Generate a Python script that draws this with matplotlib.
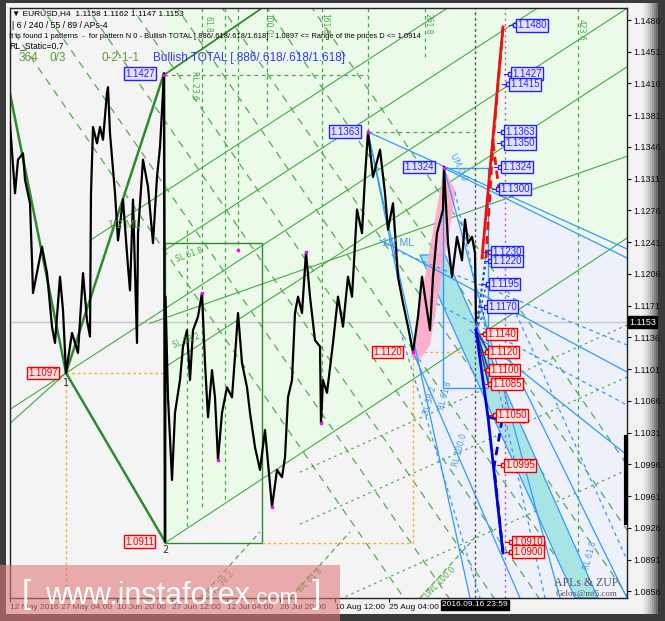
import matplotlib
matplotlib.use("Agg")
import matplotlib.pyplot as plt
from matplotlib.patches import Rectangle, Polygon

W, H = 665, 621

# ---------------- data ----------------
bar_pos = [9, 15, 18, 23, 25, 30, 32, 33, 42, 47, 52, 55, 60, 63, 66, 72, 78, 83, 87, 90,
           91, 93, 97, 100, 103, 107, 108, 110, 115, 118, 123, 128, 130, 133, 137, 138, 143,
           148, 153, 157, 160, 163, 164, 165, 165.5, 168, 172, 175, 180, 183, 187, 190, 193,
           198, 202, 205, 208, 212, 215, 218, 222, 227, 232, 235, 238, 242, 247, 250, 255,
           260, 265, 268, 272, 277, 282, 285, 288, 292, 295, 298, 302, 306, 310, 315, 320,
           321, 323, 327, 333, 338, 343, 348, 352, 357, 362, 365, 368, 373, 380, 385, 388,
           393, 398, 403, 408, 413, 418, 422, 427, 430, 433, 437, 443, 444, 448, 452, 457,
           462, 465, 468, 472, 475, 476]
close = [1.1387, 1.1295, 1.1332, 1.1339, 1.1310, 1.1284, 1.1221, 1.1185, 1.1236, 1.1207,
         1.1148, 1.1130, 1.1203, 1.1166, 1.1097, 1.1141, 1.1119, 1.1207, 1.1155, 1.1137,
         1.1295, 1.1368, 1.1350, 1.1368, 1.1354, 1.1406, 1.1412, 1.1361, 1.1295, 1.1243,
         1.1288, 1.1214, 1.1188, 1.1288, 1.1130, 1.1251, 1.1332, 1.1302, 1.1240, 1.1313,
         1.1346, 1.1406, 1.1427, 1.0911, 1.1181, 1.1070, 1.0979, 1.1053, 1.1089, 1.1126,
         1.1144, 1.1089, 1.1144, 1.1159, 1.1185, 1.1108, 1.1048, 1.1100, 1.1070, 1.1001,
         1.1053, 1.1081, 1.1070, 1.1115, 1.1163, 1.1108, 1.1081, 1.1053, 1.1015, 1.0990,
         1.1034, 1.0998, 1.0949, 1.0990, 1.0982, 1.1004, 1.1070, 1.1089, 1.1163, 1.1181,
         1.1163, 1.1230, 1.1181, 1.1133, 1.1126, 1.1042, 1.1089, 1.1075, 1.1130, 1.1181,
         1.1148, 1.1203, 1.1181, 1.1277, 1.1251, 1.1313, 1.1363, 1.1313, 1.1343, 1.1295,
         1.1255, 1.1284, 1.1203, 1.1174, 1.1148, 1.1120, 1.1159, 1.1203, 1.1166, 1.1144,
         1.1203, 1.1251, 1.1277, 1.1324, 1.1240, 1.1203, 1.1247, 1.1221, 1.1266, 1.1240,
         1.1247, 1.1229, 1.1153]

# zigzag pivots (bar, price)
zz_x = [8, 66, 164, 165]
zz_p = [1.1416, 1.1097, 1.1427, 1.0911]

# pivot labels on the chart
piv_x = [28, 125, 125, 330, 404, 373]
piv_p = [1.1097, 1.0911, 1.1427, 1.1363, 1.1324, 1.1120]
piv_kind = ["r", "r", "b", "b", "b", "r"]

# projection target levels (right side boxes)
tgt_up_p = [1.1480, 1.1427, 1.1415, 1.1363, 1.1350, 1.1324, 1.1300, 1.1230, 1.1220, 1.1195, 1.1170]
tgt_up_x = [515, 510, 508, 503, 503, 500, 498, 490, 490, 488, 486]
tgt_dn_p = [1.1140, 1.1120, 1.1100, 1.1085, 1.1050, 1.0995, 1.0910, 1.0900]
tgt_dn_x = [485, 487, 488, 490, 495, 503, 511, 511]

# axes ticks
price_ticks = [1.1486, 1.1451, 1.1416, 1.1381, 1.1346, 1.1311, 1.1276, 1.1241, 1.1206,
               1.1171, 1.1136, 1.1101, 1.1066, 1.1031, 1.0996, 1.0961, 1.0926, 1.0891, 1.0856]
time_ticks = [10, 61, 117, 172, 227, 280, 335, 389]
time_labels = ["12 May 2016", "27 May 04:00", "10 Jun 20:00", "27 Jun 12:00",
               "12 Jul 04:00", "26 Jul 20:00", "10 Aug 12:00", "25 Aug 04:00"]
last_price = 1.1153

# ---------------- helpers ----------------
PPU = 9071.0
def p(ypx):
    """pixel row -> price (for drawn analysis objects)"""
    return 1.1486 - (ypx - 20) / PPU

def seg(ax, a, b, **kw):
    ax.plot([a[0], b[0]], [p(a[1]), p(b[1])], **kw)

def ext(ax, a, slope, x0, x1, **kw):
    ax.plot([x0, x1], [p(a[1] + slope * (x0 - a[0])), p(a[1] + slope * (x1 - a[0]))], **kw)

FONT = "Liberation Sans"

fig = plt.figure(figsize=(W / 100, H / 100), dpi=100)
fig.patch.set_facecolor("#3a3a3a")

bg = fig.add_axes([0, 0, 1, 1])
bg.set_xlim(0, W); bg.set_ylim(H, 0); bg.axis("off")
bg.add_patch(Rectangle((6, 3), 650, 611, color="#f2f2f2", lw=0))
grays = ["#f4f4f4", "#eeeeee", "#e4e4e4", "#d8d8d8", "#c8c8c8", "#b4b4b4", "#9c9c9c", "#848484", "#6c6c6c"]
for i, g in enumerate(grays):
    bg.add_patch(Rectangle((640 + 2 * i, 3), 2.2, 611, color=g, lw=0))

# ---------------- main chart ----------------
ax = fig.add_axes([10 / W, (H - 598) / H, 617 / W, 590 / H])
ax.set_xlim(10, 627)
ax.set_ylim(p(598), p(8))
ax.set_facecolor("#f4f4f4")

ax.add_patch(Polygon([(165, p(543)), (627, p(543 - 0.66 * 462)), (627, p(0)), (165, p(0))],
                     closed=True, color="#ecfbe9", lw=0, zorder=0.2))
ax.add_patch(Polygon([(413, p(352)), (444, p(168)), (627, p(258)), (627, p(600)), (470, p(600))],
                     closed=True, color="#eef1fa", lw=0, zorder=0.3))

ax.axhline(last_price, color="#c8c8c8", lw=1, zorder=0.5)

GREEN = "#2e8b2e"
LG = "#44aa44"
A = (66, 373)
for off in [-58.5, 58.5]:
    ext(ax, (164.5, 309 + off), -0.65, 165, 627, color=LG, lw=0.8, zorder=1)
ext(ax, A, -0.65, 10, 627, color=LG, lw=0.8, zorder=1)
ext(ax, (164.5, 192), -0.65, 90, 627, color=LG, lw=0.8, zorder=1)
ext(ax, (165, 543), -0.66, 165, 627, color=LG, lw=0.8, zorder=1)
ext(ax, (164, 75), -0.68, 164, 270, color=LG, lw=0.8, zorder=1)
ext(ax, A, -0.9, 10, 66, color=LG, lw=0.8, zorder=1)
ext(ax, (165, 318), -0.35, 150, 627, color=LG, lw=0.8, zorder=1)

for x0 in [95, 140, 185, 230, 275, 320, 365, 410]:
    ext(ax, (x0, 150), 1.45, x0 - 100, x0 + 330, color="#55aa55", lw=0.9,
        ls=(0, (6, 5)), zorder=1)
for yr in [325, 377, 470]:
    ext(ax, (627, yr), -0.45, 300, 627, color="#55aa55", lw=0.9, ls=(0, (2, 3)), zorder=1)
for x0 in [200, 290, 420]:
    ext(ax, (x0, 598), -1.1, x0, x0 + 60, color="#55aa55", lw=0.9, ls=(0, (4, 3)), zorder=1)

for xv, ytop, ybot in [(187, 230, 527), (202, 8, 507), (225, 8, 500), (238, 8, 250),
                       (267, 8, 120), (322, 8, 423), (368, 8, 132), (425, 8, 60), (578, 8, 598)]:
    ax.plot([xv, xv], [p(ytop), p(ybot)], color="#44aa44", lw=0.9, ls=(0, (3, 3)), zorder=1)
seg(ax, (164, 75), (368, 75), color="#44aa44", lw=0.9, ls=(0, (3, 3)), zorder=1)
seg(ax, (368, 132), (475, 132), color="#44aa44", lw=0.9, ls=(0, (3, 3)), zorder=1)

ax.add_patch(Rectangle((165, p(543)), 97, p(243) - p(543), fill=False, ec=GREEN, lw=1, zorder=1.2))

OR = "#ffaa33"
for a, b in [((66, 373), (165, 373)), ((66, 373), (66, 600)), ((262, 543), (413, 543)),
             ((413, 543), (413, 352)), ((413, 352), (475, 352))]:
    seg(ax, a, b, color=OR, lw=1, ls=(0, (2, 2)), zorder=1.3)

ax.plot(zz_x[:2], zz_p[:2], color=GREEN, lw=1.8, zorder=2)
ax.plot(zz_x[1:3], zz_p[1:3], color=GREEN, lw=1.8, zorder=2)
ax.plot([zz_x[1], zz_x[3]], [zz_p[1], zz_p[3]], color=GREEN, lw=1.8, zorder=2)
ax.plot(zz_x[2:4], zz_p[2:4], color=GREEN, lw=1.8, zorder=2)
seg(ax, (164, 75), (262, 8), color=GREEN, lw=1.2, zorder=2)

ax.add_patch(Polygon([(420, p(255)), (445, p(255)), (598, p(598)), (575, p(598))], closed=True,
                     fc="#a9e4e4", ec="#3399ff", lw=0.9, zorder=1.5))
ax.add_patch(Polygon([(411, p(356)), (444, p(168)), (456, p(192)), (430, p(345)), (418, p(362))],
                     closed=True, fc="#ffa8c8", ec="none", alpha=0.9, zorder=1.6))

BLUE = "#3399ff"
blue_solid = [((368, 132), (627, 249)), ((444, 168), (627, 258)), ((368, 132), (470, 598)),
              ((368, 132), (413, 352)), ((380, 240), (627, 372)), ((413, 352), (520, 598)),
              ((470, 330), (627, 455)), ((520, 380), (627, 598)), ((444, 168), (560, 598))]
for a, b in blue_solid:
    seg(ax, a, b, color=BLUE, lw=0.9, zorder=1.7)
blue_dash = [((395, 250), (627, 345)), ((430, 300), (627, 405)), ((400, 330), (480, 598)),
             ((455, 192), (545, 598)), ((510, 300), (627, 560))]
for a, b in blue_dash:
    seg(ax, a, b, color=BLUE, lw=0.9, ls=(0, (3, 3)), zorder=1.7)
ax.add_patch(Rectangle((443, p(388)), 45, p(168) - p(388), fill=False, ec=BLUE, lw=1, zorder=1.8))

ax.axvline(475, color="#555555", lw=1, ls=(0, (2, 2)), zorder=1.9)
ax.axvline(505, color="#cc44cc", lw=1, ls=(0, (1.5, 2.5)), zorder=1.9)

ax.plot(bar_pos, close, color="black", lw=1.6, zorder=3)

for x, y in [(164, 75), (202, 293), (238, 250), (218, 460), (272, 507), (306, 252),
             (321, 423), (368, 132), (444, 168), (413, 352), (476, 328)]:
    ax.plot([x], [p(y)], "s", ms=2, color="#ff00ff", zorder=3.5)

RED = "#ee1111"
seg(ax, (482, 258), (503, 27), color=RED, lw=2, zorder=4)
ax.plot([486, 493, 503], [p(258), p(143), p(27)], color=RED, lw=2, ls=(0, (3, 2)), zorder=4)
seg(ax, (493, 143), (499, 190), color=RED, lw=2, ls=(0, (3, 2)), zorder=4)
DB = "#0000dd"
ax.plot([476, 488, 503], [p(330), p(417), p(553)], color=DB, lw=2, zorder=4)
ax.plot([488, 502, 494, 503], [p(417), p(420), p(467), p(553)], color=DB, lw=2, ls=(0, (3, 2)), zorder=4)
for yy in [253, 263, 285, 308]:
    seg(ax, (476, 330), (486, yy), color="#2255aa", lw=1, ls=(0, (2, 2)), zorder=3.8)
for yy in [353, 372, 386]:
    seg(ax, (476, 330), (489, yy), color="#224488", lw=1.2, zorder=3.8)

def box(x, pr, kind):
    if kind == "b":
        tc, fc, ec = "#2222ff", "#e4e4ff", "#2222ff"
    else:
        tc, fc, ec = "#ee0000", "#ffe4e4", "#ee0000"
    ax.text(x, pr, f"{pr:.4f}", fontsize=7, color=tc, family=FONT, va="center", ha="left",
            bbox=dict(boxstyle="square,pad=0.12", fc=fc, ec=ec, lw=1), zorder=6, clip_on=False)

for x, pr, k in zip(piv_x, piv_p, piv_kind):
    box(x, pr, k)
for x, pr in zip(tgt_up_x, tgt_up_p):
    ax.plot([x - 6, x], [pr, pr], color="#2222ff", lw=0.8, zorder=5)
    ax.plot([x], [pr], "s", ms=2.5, mfc="white", mec="#2222ff", zorder=5.5)
    box(x + 2, pr, "b")
for x, pr in zip(tgt_dn_x, tgt_dn_p):
    ax.plot([x - 6, x], [pr, pr], color="#ee0000", lw=0.8, zorder=5)
    ax.plot([x], [pr], "s", ms=2.5, mfc="white", mec="#ee0000", zorder=5.5)
    box(x + 2, pr, "r")

ax.text(66, p(383), "1", fontsize=7, color="#333333", ha="center", va="center", zorder=6)
ax.text(165, p(550), "2", fontsize=7, color="#333333", ha="center", va="center", zorder=6)
ax.text(108, p(228), "1/2 ML", fontsize=7.5, color="#66aa44", family=FONT, zorder=6)
ax.text(382, p(246), "1/2 ML", fontsize=7.5, color="#4499ee", family=FONT, zorder=6)
ax.text(448, p(180), "UM 0.0", fontsize=6, color="#4499ee", rotation=-65, zorder=6)
for x, y, t in [(430, 400, "RL 38.2"), (445, 395, "RL 61.8"), (460, 450, "RL 100.0"), (590, 555, "RL 61.8")]:
    ax.text(x, p(y), t, fontsize=5.5, color="#4499ee", rotation=75, zorder=6, ha="center", va="center")
for x, y, t in [(265, 24, "100.0"), (322, 24, "161.8"), (425, 24, "261.8"), (578, 30, "423.6"), (205, 24, "61.8"), (192, 85, "RL 23.6")]:
    ax.text(x + 3, p(y), t, fontsize=5.5, color="#44aa44", rotation=-90, zorder=6, ha="center", va="center")
for x, y, t in [(220, 585, "LWL 38.2"), (310, 580, "WL 61.8"), (440, 582, "LWL 100.0")]:
    ax.text(x, p(y), t, fontsize=5.5, color="#44aa44", rotation=45, zorder=6, ha="center", va="center")
ax.text(175, p(262), "SL 61.8", fontsize=5.5, color="#44aa44", rotation=20, zorder=6)
ax.text(172, p(348), "SL 38.2", fontsize=5.5, color="#44aa44", rotation=20, zorder=6)
ax.text(586, p(583), "APLs & ZUP", fontsize=8.5, color="#555555", family="Liberation Serif", ha="center", va="center", zorder=6)
ax.text(586, p(594), "Gelox@mt5.com", fontsize=6.5, color="#555555", family="Liberation Serif", ha="center", va="center", zorder=6)

ax.yaxis.tick_right()
ax.set_yticks(price_ticks)
ax.set_yticklabels([f"{v:.4f}" for v in price_ticks], fontsize=6.5, family=FONT)
ax.set_xticks(time_ticks)
ax.set_xticklabels(time_labels, fontsize=6, family=FONT, ha="left")
ax.tick_params(axis="both", direction="out", length=3, width=0.8, pad=1.5, colors="#111111")
for s in ax.spines.values():
    s.set_color("#222222"); s.set_linewidth(1)
ax.plot([626.3, 626.3], [p(437), p(523)], color="black", lw=3, clip_on=False, zorder=7)
ax.text(629, last_price, f"{last_price:.4f}", fontsize=6.5, color="white", family=FONT,
        va="center", ha="left", bbox=dict(boxstyle="square,pad=0.15", fc="black", ec="black"),
        zorder=8, clip_on=False)

# ---------------- overlay ----------------
ov = fig.add_axes([0, 0, 1, 1])
ov.set_xlim(0, W); ov.set_ylim(H, 0); ov.axis("off"); ov.patch.set_alpha(0)
ov.text(475, 605, "2016.09.16 23:59", fontsize=6, color="white", family=FONT, ha="center", va="center",
        bbox=dict(boxstyle="square,pad=0.2", fc="black", ec="black"))
ov.text(12, 14, "\u25bc EURUSD,H4  1.1158 1.1162 1.1147 1.1153", fontsize=6, family=FONT, va="center")
ov.text(12, 25, "| 6 / 240 / 55 / 89 / APs-4", fontsize=6.3, family=FONT, va="center")
ov.text(9, 36, "It is found 1 patterns  -  for pattern N 0 - Bullish TOTAL [.886/.618/.618/1.618] - 1.0897 <= Range of the prices D <= 1.0914",
        fontsize=5.4, family=FONT, va="center")
ov.text(9, 46, "RL_Static=0.7", fontsize=6.2, family=FONT, va="center")
ov.text(19, 58, "364", fontsize=8.5, family=FONT, color="#5c9c2c", va="center")
ov.text(50, 58, "0/3", fontsize=8.5, family=FONT, color="#5c9c2c", va="center")
ov.text(102, 58, "0-2-1-1", fontsize=8.5, family=FONT, color="#5c9c2c", va="center")
ov.text(153, 58, "Bullish TOTAL [.886/.618/.618/1.618]", fontsize=8.5, family=FONT, color="#3333ff", va="center")
# watermark
ov.add_patch(Rectangle((0, 565), 340, 56, color="#e07a7a", alpha=0.6, lw=0))
ov.text(22, 594, "[", fontsize=24, family=FONT, color="white", va="center")
ov.text(45, 604, "www.instaforex", fontsize=22, family=FONT, color="white", va="baseline")
ov.text(250, 604, ".com", fontsize=16, family=FONT, color="white", va="baseline")
ov.text(312, 594, "]", fontsize=24, family=FONT, color="white", va="center")

fig.savefig("out.png", dpi=100, facecolor=fig.get_facecolor())
